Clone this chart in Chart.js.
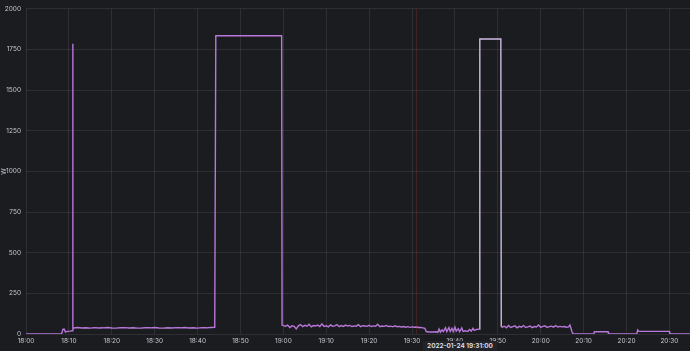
<!DOCTYPE html>
<html>
<head>
<meta charset="utf-8">
<script src="https://cdn.jsdelivr.net/npm/chart.js@4/dist/chart.umd.min.js"></script>
<style>
  html,body{margin:0;padding:0;background:#1b1c20;}
  #wrap{position:relative;width:690px;height:351px;}
  #tip{position:absolute;left:423px;top:341px;width:74px;height:10px;background:#222429;color:#e4e4ec;
       font:600 6.5px Inter, sans-serif;line-height:10px;text-align:center;}
</style>
</head>
<body>
<div id="wrap"><canvas id="c" width="690" height="351"></canvas><div id="tip">2022-01-24 19:31:00</div></div>
<script>
// minutes after 18:00
const minutes = [
  0, 8.3, 8.6, 8.9, 9.2, 9.6, 10.3, 10.8, 10.9, 10.95, 11.2,
  12,13,14,15,16,17,18,19,20,21,22,23,24,25,26,27,28,29,30,31,32,33,34,35,36,37,38,39,40,41,42,43,44,
  44.25, 59.6, 59.7,
  60,60.5,61,61.5,62,62.5,63,63.5,64,64.5,65,65.5,66,66.5,67,67.5,68,68.5,69,69.5,70,70.5,71,71.5,72,72.5,73,73.5,74,74.5,
  75,75.5,76,76.5,77,77.5,78,78.5,79,79.5,80,80.5,81,81.5,82,82.5,83,83.5,84,84.5,85,85.5,86,86.5,87,87.5,88,88.5,89,89.5,
  90,90.5,91,91.5,92,92.5,93,
  93.3,94,95,95.5,96,96.3,96.6,97,97.3,97.8,98.1,98.6,98.9,99.3,99.6,100,100.3,100.8,101.1,101.6,101.9,102.4,103,103.4,103.8,104.2,104.5,105,105.7,
  105.8, 110.7, 110.8,
  111,111.5,112,112.5,113,113.5,114,114.5,115,115.5,116,116.5,117,117.5,118,118.5,119,119.5,120,120.5,121,121.5,122,122.5,123,123.5,124,124.5,125,125.5,126,126.5,126.8,127,127.3,127.6,
  132.4,132.5,135.7,135.8,142.4,142.6,142.9,150,150.1,156
];
const watts = [
  0, 0, 28, 30, 12, 16, 18, 20, 1785, 30, 38,
  40,37,38,36,39,37,38,40,37,36,38,39,37,38,36,37,39,38,40,37,36,38,37,39,38,40,37,38,36,39,38,40,41,
  1835, 1835, 55,
  52,48,55,40,50,47,32,50,58,45,53,48,60,44,52,49,55,46,62,47,51,44,56,48,50,58,45,52,47,55,
  49,53,46,50,48,57,45,51,49,47,53,46,50,48,60,45,49,47,52,46,48,44,50,45,47,43,46,42,45,41,
  44,42,43,40,41,38,35,
  15,12,12,14,10,30,12,25,15,38,14,40,16,35,15,42,18,32,14,38,16,20,15,28,18,35,22,28,30,
  1815, 1815, 45,
  42,48,38,52,40,45,50,38,47,42,52,40,44,49,39,46,43,55,41,47,50,40,45,48,42,52,43,47,44,46,42,44,55,40,12,0,
  0,14,14,0,0,25,16,16,0,0
];
const xTicks = [0,10,20,30,40,50,60,70,80,90,100,110,120,130,140,150];
const yTicks = [0,250,500,750,1000,1250,1500,1750,2000];
const highlightFrom = 105.7, highlightTo = 110.9;
const annotationMinute = 91;

function fmt(m){ const h = 18 + Math.floor(m/60); const mm = Math.round(m%60); return h + ':' + String(mm).padStart(2,'0'); }

const points = minutes.map((m,i)=>({x:m,y:watts[i]}));

const markerPlugin = {
  id:'marker',
  afterDatasetsDraw(chart){
    const {ctx, chartArea, scales} = chart;
    const x = Math.round(scales.x.getPixelForValue(annotationMinute)) + 0.5;
    ctx.save();
    ctx.strokeStyle = 'rgba(170,45,45,0.3)';
    ctx.lineWidth = 1;
    ctx.beginPath(); ctx.moveTo(x, chartArea.top); ctx.lineTo(x, chartArea.bottom); ctx.stroke();
    ctx.restore();
  }
};

new Chart(document.getElementById('c'), {
  type:'line',
  data:{ datasets:[{
    data: points,
    borderColor:'#b877d9',
    borderWidth:1.4,
    pointRadius:0,
    tension:0,
    fill:false,
    segment:{ borderColor: c => (c.p0.parsed.x >= highlightFrom && c.p1.parsed.x <= highlightTo) ? '#cdbbe6' : undefined }
  }]},
  options:{
    responsive:false, animation:false,
    layout:{padding:{top:8,right:0,left:0,bottom:0}},
    plugins:{legend:{display:false}, tooltip:{enabled:false}},
    scales:{
      x:{
        type:'linear', min:0, max:154.8,
        afterBuildTicks(s){ s.ticks = xTicks.map(v=>({value:v})); },
        afterFit(s){ s.height = 17; },
        ticks:{ color:'#c8c8d2', font:{family:'Inter', size:6.5}, padding:3, maxRotation:0, autoSkip:false,
                callback:v => fmt(v) },
        grid:{ color:'rgba(204,204,220,0.11)', drawTicks:false },
        border:{ display:false }
      },
      y:{
        min:0, max:2000,
        afterBuildTicks(s){ s.ticks = yTicks.map(v=>({value:v})); },
        afterFit(s){ s.width = 26; },
        ticks:{ color:'#c8c8d2', font:{family:'Inter', size:6.5}, padding:5, callback:v => String(v) },
        grid:{ color:'rgba(204,204,220,0.11)', drawTicks:false },
        border:{ display:false },
        title:{ display:true, text:'W', color:'#c8c8d2', font:{family:'Inter', size:6.5}, padding:0 }
      }
    }
  },
  plugins:[markerPlugin]
});
</script>
</body>
</html>
